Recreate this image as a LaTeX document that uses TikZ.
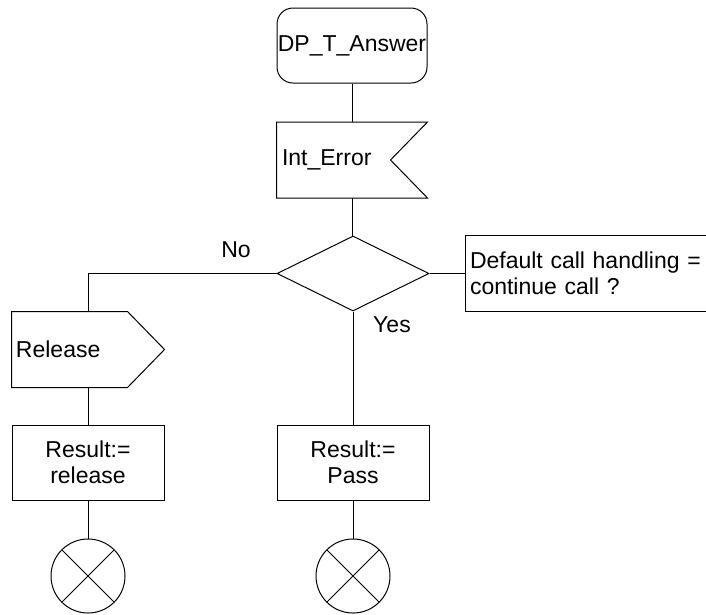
\documentclass[tikz,border=0pt]{standalone}
\usepackage{fontspec}
\setmainfont{Liberation Sans}
\usetikzlibrary{shapes.geometric}
\begin{document}
\begin{tikzpicture}[x=1pt,y=-1pt,line width=1pt,
  every node/.style={font=\fontsize{23}{26}\selectfont},
  boxtext/.style={draw=none,inner sep=0pt,minimum height=75pt},
  procbox/.style={draw,rectangle,minimum width=152pt,minimum height=75pt,align=center,inner sep=0pt},
  stopcirc/.style={draw,circle,minimum size=74pt,inner sep=0pt,
    path picture={\draw (path picture bounding box.north west) -- (path picture bounding box.south east)
                        (path picture bounding box.north east) -- (path picture bounding box.south west);}},
  lbl/.style={inner sep=0pt}]
\useasboundingbox (0,0) rectangle (706,614);
% start
\node (start) [draw,rectangle,rounded corners=16pt,minimum width=150pt,minimum height=75pt,inner sep=0pt] at (352,45.5) {DP\_T\_Answer};
% input signal
\node (inp) [boxtext,minimum width=150pt,text width=140pt,align=left] at (352,160) {Int\_Error};
\draw (inp.north west) -- (inp.north east) -- ([xshift=-37pt]inp.east) -- (inp.south east) -- (inp.south west) -- cycle;
% decision
\node (dec) [draw,diamond,minimum width=152pt,minimum height=75pt,inner sep=0pt] at (353,273.5) {};
% comment
\node (com) [boxtext,minimum width=240pt,text width=232pt,align=left] at (586,273.5) {Default call handling =\\continue call ?};
\draw (com.north east) -- (com.north west) -- (com.south west) -- (com.south east);
% output signal
\node (out) [boxtext,minimum width=152pt,text width=144pt,align=left] at (88,349.5) {Release};
\draw (out.north west) -- ([xshift=-37pt]out.north east) -- (out.east) -- ([xshift=-37pt]out.south east) -- (out.south west) -- cycle;
% tasks
\node (rel) [procbox] at (88,462.5) {Result:=\\release};
\node (pass) [procbox] at (353,462.5) {Result:=\\Pass};
% stops
\node (stop1) [stopcirc] at (88,576) {};
\node (stop2) [stopcirc] at (353,576) {};
% labels
\node (no) [lbl] at (236,250) {No};
\node (yes) [lbl] at (392,325) {Yes};
% connectors
\draw (start.south) -- (start.south |- inp.north);
\draw (start.south |- inp.south) -- (start.south |- dec.north);
\draw (dec.west) -| (out.north);
\draw (dec.east) -- (com.west);
\draw (dec.south) -- (pass.north);
\draw (out.south) -- (rel.north);
\draw (rel.south) -- (stop1.north);
\draw (pass.south) -- (stop2.north);
\end{tikzpicture}
\end{document}
